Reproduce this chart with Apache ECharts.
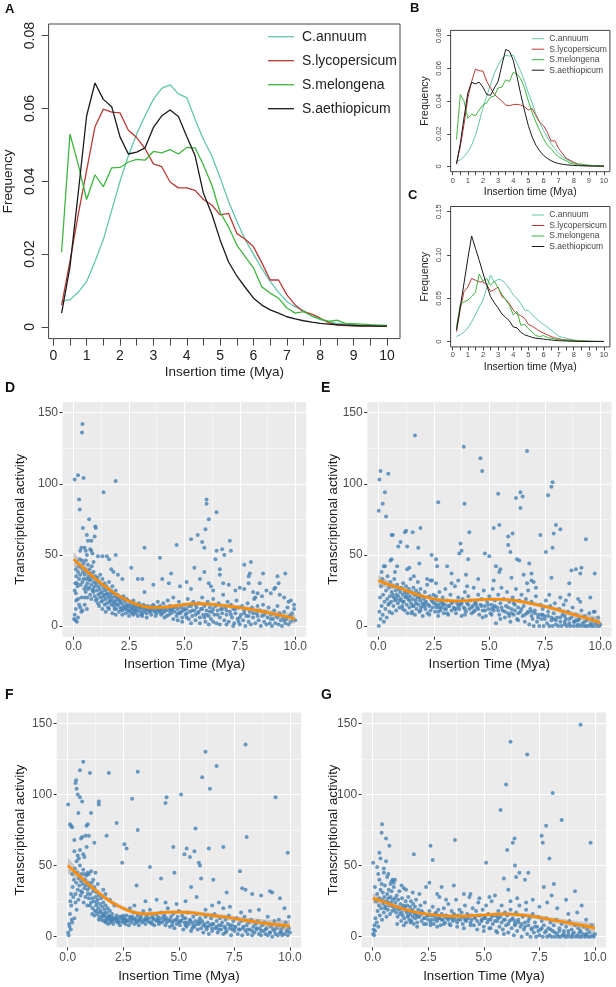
<!DOCTYPE html>
<html>
<head>
<meta charset="utf-8">
<script src="https://cdn.jsdelivr.net/npm/echarts@6/dist/echarts.min.js"></script>
<style>
html, body { margin: 0; padding: 0; background: #fff; }
#main { width: 616px; height: 987px; }
</style>
</head>
<body>
<div id="main"></div>
<script>
// insertion time bins (Mya)
var insertTime = [0.25,0.5,0.75,1,1.25,1.5,1.75,2,2.25,2.5,2.75,3,3.25,3.5,3.75,4,4.25,4.5,4.75,5,
                  5.25,5.5,5.75,6,6.25,6.5,6.75,7,7.25,7.5,7.75,8,8.25,8.5,8.75,9,9.25,9.5,9.75,10];
var speciesNames = ['C.annuum', 'S.lycopersicum', 'S.melongena', 'S.aethiopicum'];

// panel A
var aAnnuum = [0.007,0.0075,0.0095,0.0125,0.018,0.024,0.032,0.04,0.047,0.053,0.058,0.0625,0.0655,0.0665,0.064,0.063,0.057,0.0515,0.047,0.041,
               0.0345,0.029,0.024,0.02,0.016,0.0125,0.0095,0.007,0.0055,0.0045,0.003,0.002,0.0015,0.001,0.0008,0.0006,0.0005,0.0004,0.0003,0.0003];
var aLyco = [0.006,0.018,0.031,0.043,0.055,0.0598,0.059,0.0588,0.054,0.052,0.049,0.0448,0.044,0.0398,0.0382,0.0382,0.0375,0.035,0.0335,0.0308,
             0.0312,0.0257,0.0241,0.022,0.0176,0.0129,0.0129,0.0088,0.006,0.0042,0.0035,0.0024,0.0012,0.0006,0.0004,0.0003,0.0002,0.0002,0.0002,0.0002];
var aMelon = [0.0205,0.053,0.0445,0.035,0.0418,0.0385,0.0437,0.0438,0.0453,0.046,0.0458,0.0482,0.0478,0.0487,0.0475,0.0493,0.0492,0.0445,0.039,0.0315,
              0.0275,0.0225,0.0193,0.0162,0.011,0.0093,0.0079,0.0052,0.0038,0.0042,0.003,0.0022,0.0015,0.0019,0.001,0.0009,0.0008,0.0006,0.0005,0.0004];
var aAethi = [0.0038,0.0165,0.037,0.058,0.067,0.0625,0.0605,0.0522,0.0475,0.048,0.0492,0.0548,0.058,0.0596,0.0578,0.0523,0.047,0.0367,0.031,0.0239,
              0.0179,0.014,0.0109,0.0079,0.006,0.0047,0.0038,0.0028,0.0022,0.0017,0.0013,0.001,0.0008,0.0006,0.0005,0.0004,0.0003,0.0003,0.0002,0.0002];

// panel B
var bAnnuum = [0.003,0.004,0.006,0.009,0.013,0.019,0.027,0.036,0.043,0.05,0.057,0.062,0.066,0.068,0.0675,0.068,0.063,0.058,0.052,0.045,
               0.039,0.032,0.027,0.022,0.018,0.014,0.011,0.008,0.006,0.0045,0.003,0.0022,0.0015,0.001,0.0008,0.0006,0.0005,0.0004,0.0004,0.0004];
var bLyco = [0.002,0.012,0.026,0.042,0.052,0.0595,0.0585,0.0583,0.052,0.048,0.044,0.042,0.04,0.0375,0.0372,0.0378,0.038,0.0375,0.0365,0.0345,
             0.0355,0.031,0.027,0.025,0.021,0.0155,0.0158,0.011,0.008,0.005,0.0038,0.0025,0.0015,0.0008,0.0005,0.0004,0.0003,0.0003,0.0003,0.0003];
var bMelon = [0.0165,0.044,0.04,0.0295,0.032,0.031,0.0345,0.0375,0.039,0.0425,0.043,0.048,0.0485,0.053,0.052,0.0575,0.0565,0.0535,0.048,0.04,
              0.033,0.027,0.022,0.017,0.013,0.011,0.008,0.006,0.0045,0.0035,0.002,0.0015,0.0012,0.0015,0.001,0.0008,0.0006,0.0005,0.0004,0.0004];
var bAethi = [0.0015,0.014,0.03,0.045,0.0515,0.0505,0.0515,0.0485,0.044,0.0435,0.048,0.052,0.062,0.0715,0.0705,0.065,0.055,0.044,0.034,0.025,
              0.018,0.013,0.0095,0.0068,0.005,0.0035,0.0025,0.0018,0.0014,0.001,0.0008,0.0006,0.0005,0.0004,0.0004,0.0003,0.0003,0.0002,0.0002,0.0002];

// panel C
var cAnnuum = [0.006,0.008,0.011,0.016,0.023,0.031,0.04,0.048,0.062,0.077,0.069,0.072,0.071,0.067,0.061,0.054,0.05,0.044,0.0365,0.036,
               0.031,0.027,0.023,0.02,0.017,0.0135,0.01,0.0065,0.005,0.004,0.003,0.002,0.0015,0.001,0.0008,0.0006,0.0005,0.0004,0.0004,0.0003];
var cLyco = [0.0115,0.038,0.058,0.063,0.073,0.071,0.069,0.069,0.066,0.058,0.06,0.063,0.052,0.049,0.044,0.0365,0.032,0.03,0.027,0.02,
             0.018,0.015,0.012,0.01,0.008,0.006,0.0045,0.0035,0.0025,0.002,0.0018,0.0015,0.001,0.0008,0.0006,0.0005,0.0004,0.0003,0.0003,0.0003];
var cMelon = [0.017,0.043,0.046,0.048,0.052,0.057,0.078,0.07,0.073,0.065,0.07,0.062,0.055,0.048,0.042,0.031,0.035,0.019,0.02,0.015,
              0.011,0.007,0.006,0.007,0.005,0.004,0.003,0.0025,0.002,0.0015,0.0012,0.001,0.0008,0.001,0.0006,0.0005,0.0004,0.0003,0.0003,0.0003];
var cAethi = [0.0135,0.04,0.068,0.096,0.122,0.108,0.094,0.079,0.065,0.052,0.045,0.039,0.032,0.028,0.024,0.017,0.016,0.011,0.008,0.0065,
              0.005,0.004,0.0035,0.003,0.0025,0.002,0.0015,0.0012,0.001,0.0008,0.0006,0.0005,0.0004,0.0003,0.0003,0.0002,0.0002,0.0002,0.0002,0.0002];

// tick labels
var rTicks = [0,0.5,1,1.5,2,2.5,3,3.5,4,4.5,5,5.5,6,6.5,7,7.5,8,8.5,9,9.5,10];
var rLabels = [0,1,2,3,4,5,6,7,8,9,10];
var freqTicksAB = [0,0.02,0.04,0.06,0.08];
var freqTicksC = [0,0.05,0.1,0.15];
var ggXTicks = [0,2.5,5,7.5,10];
var ggXMinor = [1.25,3.75,6.25,8.75];
var ggYTicks = [0,50,100,150];
var ggYMinor = [25,75,125];

// loess fits (x, fit, lower, upper)
var fitTime = [0,0.5,1,1.5,2,2.5,3,3.5,4,4.5,5,5.5,6,6.5,7,7.5,8,8.5,9,9.5,10];
var dFit = [47,40,33,27,21.5,17.5,14.5,13,13.2,14,15,15.8,15.5,14.8,14,13,11.8,10.3,8.7,7,5];
var dLo  = [42,37,31,25.5,20,16,13,11.5,11.8,12.6,13.6,14.3,14,13.3,12.5,11.5,10.1,8.4,6.4,4.3,1.5];
var dHi  = [52,43,35,28.5,23,19,16,14.5,14.6,15.4,16.4,17.3,17,16.3,15.5,14.5,13.5,12.2,11,9.7,8.5];
var eFit = [32,29,26.5,23.5,21,19,18,17.6,18,18.5,18.8,18.8,18.2,17,15.5,13.8,11.8,9.5,7.2,5,2.5];
var eLo  = [28,26.5,24.8,22,19.6,17.7,16.8,16.4,16.8,17.3,17.6,17.5,16.9,15.6,14,12.3,10.2,7.7,5.1,2.5,-1.5];
var eHi  = [36,31.5,28.2,25,22.4,20.3,19.2,18.8,19.2,19.7,20,20.1,19.5,18.4,17,15.3,13.4,11.3,9.3,7.5,6.5];
var fFit = [50,43,36,29.5,24,20,17,16,16.5,17.2,17.3,17,16,15,14,12.8,11.5,10.3,9.2,8.3,7.5];
var fLo  = [44.5,39.5,33.5,27.5,22.3,18.5,15.6,14.6,15.1,15.8,15.9,15.5,14.5,13.4,12.3,11,9.5,8,6.5,5,3.5];
var fHi  = [55.5,46.5,38.5,31.5,25.7,21.5,18.4,17.4,17.9,18.6,18.7,18.5,17.5,16.6,15.7,14.6,13.5,12.6,11.9,11.6,11.5];
var gFit = [27,24.5,21.5,19,17,15.8,15,14.5,14.5,14.8,15.3,15.8,16,15.5,14.8,13.5,12,10.7,9.2,7.8,6];
var gLo  = [23.5,22.3,19.9,17.7,15.8,14.7,13.9,13.4,13.4,13.7,14.2,14.6,14.7,14.1,13.3,11.9,10.3,8.8,7,5.2,2.5];
var gHi  = [30.5,26.7,23.1,20.3,18.2,16.9,16.1,15.6,15.6,15.9,16.4,17,17.3,16.9,16.3,15.1,13.7,12.6,11.4,10.4,9.5];

// scatter points [insertion time, transcriptional activity]
var dPoints = [
 [0.05,103],[0.2,106],[0.25,89],[0.28,82],[0.38,136],[0.4,142],[0.45,104],[0.42,69],[0.7,75],[0.98,70],[1.0,69],[0.95,63],[0.8,60],
 [1.35,94],[1.9,102],[1.9,50],[3.2,55],[2.6,41],[3.9,48],[4.65,57],[5.3,61],[5.6,64],[5.8,59],[5.9,55],[5.95,68],[6.0,89],[6.0,86],
 [6.1,75],[6.45,80],[6.45,53],[6.4,47],[6.7,54],[6.8,50],[7.05,60],[7.1,53],[6.6,40],[7.7,43],[8.0,45],[7.9,35],[7.95,37],[8.55,37],
 [9.55,37],[9.2,35],[9.25,30],[9.1,27],[9.8,18],[9.95,15],
 [0.5,55],[0.55,53],[0.6,50],[0.65,60],[0.75,54],[0.8,53],[0.85,51],[0.6,64],[0.35,55],[0.3,53],[0.9,45],[1.1,49],[1.3,49],[1.5,49],
 [1.6,47],[1.7,40],[1.8,38],[2.0,36],[2.2,33],[2.9,33],[3.1,33],[3.2,24],[3.6,29],[4.0,33],[4.4,37],[4.3,30],[4.8,28],[5.1,31],[5.3,26],
 [5.45,41],[5.7,33],[5.9,38],[6.1,30],[6.2,28],[6.3,25],[6.6,36],[6.75,30],[7.0,29],[7.3,25],[7.5,27],[7.7,26],[7.9,30],[8.1,24],[8.3,23],
 [8.5,21],[8.4,30],[8.2,20],[8.7,25],[8.9,23],[9.05,26],[9.3,22],[9.5,20],[9.7,17],
 [0.02,5],[0.05,8],[0.08,4],[0.1,12],[0.1,23],[0.15,30],[0.12,18],[0.2,19],[0.25,15],[0.3,13],[0.35,20],[0.4,11],[0.5,20],[0.55,28],[0.45,33],
 [0.05,25],[0.08,30],[0.1,40],[0.12,35],[0.15,45],[0.18,28],[0.2,38],[0.22,42],[0.25,33],[0.28,47],[0.3,36],[0.32,29],[0.35,41],[0.38,46],
 [0.4,31],[0.42,38],[0.45,44],[0.48,26],[0.5,36],[0.52,40],[0.55,46],[0.58,33],[0.6,38],[0.62,30],[0.65,43],[0.68,35],[0.7,27],[0.72,40],
 [0.75,32],[0.78,37],[0.8,29],[0.82,42],[0.85,34],[0.88,26],[0.9,38],[0.92,31],[0.95,28],[0.98,35],[0.62,20],[0.75,22],[0.9,24],[0.5,15],
 [0.35,10],[0.2,6],[0.15,3],[0.6,12],
 [1.02,30],[1.05,25],[1.08,34],[1.1,28],[1.12,22],[1.15,31],[1.18,26],[1.2,36],[1.22,20],[1.25,29],[1.28,24],[1.3,33],[1.32,18],[1.35,27],
 [1.38,22],[1.4,30],[1.42,25],[1.45,19],[1.48,28],[1.5,16],[1.52,23],[1.55,26],[1.58,20],[1.6,31],[1.62,17],[1.65,22],[1.68,25],[1.7,15],
 [1.72,20],[1.75,28],[1.78,18],[1.8,23],[1.82,14],[1.85,21],[1.88,17],[1.9,25],[1.92,12],[1.95,19],[1.98,22],[2.0,15],[2.05,18],[2.1,13],
 [2.12,20],[2.15,16],[2.2,11],[2.22,19],[2.25,14],[2.3,17],[2.35,9],[2.4,15],[2.42,12],[2.45,18],[2.48,10],
 [2.52,14],[2.55,11],[2.6,16],[2.62,9],[2.65,13],[2.7,18],[2.72,10],[2.75,12],[2.8,15],[2.82,9],[2.85,13],[2.9,11],[2.95,16],[3.0,10],
 [3.02,13],[3.05,8],[3.1,12],[3.15,15],[3.2,10],[3.25,12],[3.3,9],[3.35,14],[3.4,11],[3.45,13],[3.5,8],[3.55,12],[3.6,15],[3.65,10],
 [3.7,13],[3.75,9],[3.8,17],[3.85,11],[3.9,14],[3.95,8],[4.0,12],[4.05,16],[4.1,10],[4.15,13],[4.2,7],[4.25,18],[4.3,11],[4.35,14],
 [4.4,9],[4.45,12],[4.5,20],
 [4.55,10],[4.6,14],[4.65,7],[4.7,12],[4.75,17],[4.8,9],[4.85,13],[4.9,6],[4.95,11],[5.0,15],[5.05,8],[5.1,12],[5.15,19],[5.2,5],
 [5.25,10],[5.3,14],[5.35,7],[5.4,17],[5.45,11],[5.5,4],[5.55,13],[5.6,9],[5.65,16],[5.7,6],[5.75,12],[5.8,20],[5.85,8],[5.9,14],
 [5.95,3],[6.0,11],[6.05,17],[6.1,7],[6.15,13],[6.2,5],[6.25,10],[6.3,19],[6.35,8],[6.4,14],[6.45,2],[6.5,11],[6.55,16],[6.6,6],
 [6.65,12],[6.7,9],[6.75,22],[6.8,4],[6.85,13],[6.9,8],[6.95,17],[7.0,3],
 [7.05,10],[7.1,15],[7.15,6],[7.2,12],[7.25,2],[7.3,9],[7.35,18],[7.4,5],[7.45,13],[7.5,1],[7.55,8],[7.6,14],[7.65,4],[7.7,11],
 [7.75,0],[7.8,7],[7.85,16],[7.9,3],[7.95,10],[8.0,1],[8.05,13],[8.1,6],[8.15,19],[8.2,2],[8.25,9],[8.3,14],[8.35,4],[8.4,11],
 [8.45,0],[8.5,7],[8.55,15],[8.6,3],[8.65,10],[8.7,1],[8.75,6],[8.8,13],[8.85,2],[8.9,8],[8.95,0],[9.0,5],[9.05,11],[9.1,2],
 [9.15,7],[9.2,14],[9.25,1],[9.3,9],[9.35,4],[9.4,0],[9.45,6],[9.5,10],[9.55,2],[9.6,5],[9.65,13],[9.7,1],[9.75,7],[9.8,3],
 [9.85,9],[9.9,5],[9.95,12],[10.0,4],
 [1.0,18],[1.15,14],[1.3,12],[1.45,10],[1.6,12],[1.75,9],[1.9,8],[2.05,10],[2.2,8],[2.35,12],[2.5,7],[2.7,8],[2.9,7],[3.1,7],
 [3.3,6],[3.5,11],[3.7,7],[3.9,10],[4.1,6],[4.3,8],[4.5,5],[4.7,4],[4.9,3],[5.1,6],[5.3,2],[5.5,8],[5.7,2],[5.9,6],[6.1,1],[6.3,3],
 [6.6,1],[6.9,1],[7.2,0],[7.45,3]
];
var dDense = [
 [0.55,24],[0.65,26],[0.7,33],[0.8,19],[0.85,25],[0.95,21],[1.05,19],[1.1,16],[1.2,23],[1.25,17],[1.35,21],[1.4,15],[1.5,22],[1.55,13],
 [1.65,18],[1.7,24],[1.8,16],[1.85,12],[1.95,15],[2.0,20],[2.1,17],[2.15,12],[2.25,21],[2.3,13],[2.4,19],[2.45,14],[2.55,17],[2.6,12],
 [2.7,14],[2.8,11],[2.9,14],[3.0,13],[3.1,9],[3.2,14],[3.3,12],[3.45,10],[3.55,14],[3.7,11],[3.8,13],[3.9,11],[4.0,9],[4.15,11],
 [4.3,13],[4.4,11],[4.55,13],[4.7,9],[4.85,10],[5.0,12],[5.1,9],[5.2,14],[5.35,11],[5.5,15],[5.65,10],[5.8,12],[6.0,8],[6.15,10],
 [6.3,12],[6.5,8],[6.7,12],[6.9,11],[7.1,8],[7.3,12],[7.5,6],[7.7,9],[7.9,7],[8.1,9],[8.3,7],[8.6,8],[8.9,5],[9.2,6],[9.5,4],[9.8,7]
];

var ePoints = [
 [0.02,81],[0.05,103],[0.1,109],[0.2,86],[0.3,94],[0.35,77],[0.45,107],[0.6,64],[0.65,64],[0.9,56],[1.0,59],[1.2,66],[1.25,67],[1.3,56],
 [1.55,66],[1.65,134],[1.8,55],[1.9,69],[1.85,44],[2.4,50],[2.6,47],[2.65,42],[2.7,87],[3.1,42],[3.3,37],[3.65,51],[3.7,58],[3.75,53],
 [3.85,126],[3.88,86],[3.95,36],[4.1,66],[4.05,47],[4.6,118],[4.68,109],[4.8,51],[5.0,49],[5.2,69],[5.4,93],[5.45,71],[5.5,40],[5.3,42],
 [5.85,63],[5.85,57],[5.95,52],[6.05,65],[6.2,90],[6.25,47],[6.35,46],[6.4,94],[6.4,83],[6.5,91],[6.7,123],[6.8,44],[6.55,36],[6.9,37],
 [7.3,64],[7.55,52],[7.65,92],[7.8,98],[7.85,101],[7.85,55],[7.9,65],[8.0,71],[8.2,68],[7.8,34],[8.6,30],[8.7,39],[8.9,40],[9.1,37],
 [9.15,41],[9.35,61],[9.55,20],[9.75,37],[8.45,18],[9.0,19],[7.7,22],
 [0.02,0],[0.05,10],[0.08,20],[0.1,5],[0.12,28],[0.15,14],[0.18,33],[0.2,8],[0.22,22],[0.25,3],[0.28,17],[0.3,30],[0.32,12],[0.35,25],
 [0.38,6],[0.4,19],[0.42,35],[0.45,15],[0.48,27],[0.5,10],[0.52,21],[0.55,31],[0.58,17],[0.6,24],[0.62,9],[0.65,28],[0.68,14],[0.7,20],
 [0.72,33],[0.75,18],[0.78,25],[0.8,11],[0.82,22],[0.85,29],[0.88,16],[0.9,21],[0.92,26],[0.95,13],[0.98,24],[0.3,42],[0.55,46],
 [0.6,47],[0.75,38],[0.85,42],[0.15,38],[0.25,42],
 [1.02,19],[1.05,27],[1.08,14],[1.1,22],[1.12,30],[1.15,17],[1.18,24],[1.2,11],[1.22,20],[1.25,28],[1.28,15],[1.3,23],[1.32,9],[1.35,19],
 [1.38,26],[1.4,13],[1.42,21],[1.45,33],[1.48,16],[1.5,24],[1.52,10],[1.55,19],[1.58,27],[1.6,14],[1.62,22],[1.65,8],[1.68,18],[1.7,25],
 [1.72,12],[1.75,20],[1.78,31],[1.8,15],[1.82,23],[1.85,10],[1.88,18],[1.9,26],[1.92,13],[1.95,21],[1.98,16],[2.0,7],[2.05,19],[2.1,24],
 [2.12,12],[2.15,17],[2.2,29],[2.22,9],[2.25,15],[2.3,21],[2.35,11],[2.4,18],[2.42,32],[2.45,13],[2.48,22],[1.3,40],[1.4,41],[2.2,33],
 [1.6,35],[2.35,32],
 [2.52,16],[2.55,10],[2.6,21],[2.62,13],[2.65,18],[2.7,7],[2.72,15],[2.75,24],[2.8,11],[2.82,17],[2.85,13],[2.9,20],[2.95,9],[3.0,15],
 [3.02,26],[3.05,12],[3.1,18],[3.15,8],[3.2,14],[3.25,22],[3.3,11],[3.35,17],[3.4,13],[3.45,28],[3.5,9],[3.55,16],[3.6,20],[3.65,12],
 [3.7,15],[3.75,7],[3.8,19],[3.85,13],[3.9,24],[3.95,10],[4.0,16],[4.05,21],[4.1,12],[4.15,18],[4.2,9],[4.25,14],[4.3,27],[4.35,11],
 [4.4,17],[4.45,13],[4.5,22],[4.55,8],[4.6,15],[4.65,19],[4.7,11],[4.75,25],[4.8,14],[4.85,7],[4.9,17],[4.95,12],[5.0,21],[5.05,9],
 [5.1,15],[5.15,26],[5.2,11],[5.25,18],[5.3,2],[5.35,13],[5.4,22],[5.45,8],[5.5,16],[5.55,27],[5.6,11],[5.65,19],[5.7,6],[5.75,14],
 [5.8,24],[5.85,9],[5.9,17],[5.95,3],[6.0,12],[6.05,20],[6.1,8],[6.15,15],[6.2,26],[6.25,5],[6.3,13],[6.35,18],[6.4,10],[6.45,22],
 [3.6,32],[4.0,28],[2.6,30],[5.2,32],[5.45,38],[6.0,34],[4.5,33],[3.3,30],
 [6.5,7],[6.55,14],[6.6,3],[6.65,19],[6.7,9],[6.75,25],[6.8,1],[6.85,12],[6.9,17],[6.95,5],[7.0,0],[7.05,11],[7.1,21],[7.15,3],
 [7.2,8],[7.25,0],[7.3,15],[7.35,5],[7.4,12],[7.45,0],[7.5,7],[7.55,18],[7.6,2],[7.65,10],[7.7,0],[7.75,14],[7.8,4],[7.85,0],
 [7.9,9],[7.95,16],[8.0,1],[8.05,6],[8.1,0],[8.15,12],[8.2,3],[8.25,0],[8.3,8],[8.35,15],[8.4,1],[8.45,5],[8.5,0],[8.55,10],
 [8.6,2],[8.65,0],[8.7,6],[8.75,13],[8.8,0],[8.85,3],[8.9,8],[8.95,0],[9.0,1],[9.05,5],[9.1,0],[9.15,11],[9.2,2],[9.25,0],
 [9.3,7],[9.35,0],[9.4,4],[9.45,0],[9.5,9],[9.55,1],[9.6,0],[9.65,5],[9.7,0],[9.75,10],[9.8,2],[9.85,0],[9.9,6],[9.95,0],[10.0,1],
 [6.7,30],[6.9,32],[7.1,27],[7.0,31],[8.6,22],[8.2,20],[9.1,17],[9.7,10],
 [1.1,12],[1.5,9],[1.9,11],[2.3,8],[2.7,10],[3.1,9],[3.5,12],[3.9,8],[4.3,10],[4.7,6],[5.1,8],[5.5,5],[5.9,7],[6.3,4],[2.1,14],
 [2.9,16],[3.7,17],[4.4,15],[5.2,13],[6.1,16],[6.9,10],[7.4,8],[7.9,5],[8.4,7],[8.9,4]
];
var eDense = [
 [0.5,16],[0.65,22],[0.8,19],[0.95,18],[1.1,17],[1.25,21],[1.4,18],[1.55,14],[1.7,16],[1.85,20],[2.0,14],[2.1,16],[2.3,14],[2.45,17],
 [2.6,15],[2.75,13],[2.9,15],[3.0,12],[3.15,14],[3.3,16],[3.45,12],[3.6,14],[3.75,16],[3.9,12],[4.05,15],[4.2,13],[4.35,16],[4.5,12],
 [4.65,14],[4.8,11],[4.95,15],[5.1,12],[5.25,14],[5.4,11],[5.55,13],[5.7,10],[5.85,13],[6.0,9],[6.15,11],[6.3,9],[6.45,12],[6.6,8],
 [6.75,10],[6.9,7],[7.05,9],[7.2,6],[7.35,8],[7.5,5],[7.65,7],[7.8,6],[8.0,4],[8.2,6],[8.4,3],[8.6,5],[8.8,3],[9.0,4],[9.3,3],[9.6,2]
];

var fPoints = [
 [0.02,93],[0.1,79],[0.15,78],[0.2,77],[0.3,68],[0.35,108],[0.38,110],[0.4,104],[0.45,100],[0.48,87],[0.55,117],[0.55,98],[0.65,95],
 [0.7,123],[0.85,78],[0.9,79],[1.0,115],[1.05,87],[0.95,71],[1.2,66],[1.4,95],[1.4,93],[1.75,71],[1.85,115],[2.2,80],[2.45,52],[2.55,65],
 [2.65,62],[2.9,97],[3.15,116],[3.15,75],[3.1,36],[3.7,49],[4.2,41],[4.4,94],[4.45,98],[4.75,63],[4.8,45],[5.1,100],[5.25,58],[5.35,62],
 [5.5,56],[5.55,35],[5.75,76],[5.7,60],[5.9,52],[5.95,50],[6.0,41],[6.05,112],[6.2,130],[6.4,104],[6.35,62],[6.7,120],[6.55,40],
 [7.0,63],[7.15,31],[7.75,46],[7.85,34],[8.0,135],[8.05,70],[8.0,33],[8.3,30],[8.7,29],[9.1,32],[9.2,31],[9.35,98],[9.55,27],[9.9,59],
 [9.75,20],[9.95,14],
 [0.02,3],[0.04,1],[0.06,9],[0.08,7],[0.1,16],[0.12,25],[0.14,5],[0.16,22],[0.18,12],[0.2,44],[0.22,35],[0.25,28],[0.28,40],[0.3,13],
 [0.32,48],[0.35,30],[0.38,38],[0.4,19],[0.42,45],[0.45,33],[0.48,26],[0.5,41],[0.52,36],[0.55,50],[0.58,29],[0.6,39],[0.62,44],[0.65,31],
 [0.68,37],[0.7,47],[0.72,24],[0.75,34],[0.78,40],[0.8,28],[0.82,36],[0.85,43],[0.88,22],[0.9,33],[0.92,38],[0.95,27],[0.98,35],
 [0.4,53],[0.5,55],[0.55,61],[0.6,69],[0.65,70],[0.7,58],[0.75,56],[0.8,71],[0.85,63],[0.9,45],[0.95,44],[0.3,60],[0.45,57],[0.2,10],
 [0.35,24],[0.15,30],
 [1.02,30],[1.05,24],[1.08,38],[1.1,27],[1.12,20],[1.15,32],[1.18,25],[1.2,35],[1.22,18],[1.25,28],[1.28,22],[1.3,31],[1.32,16],[1.35,26],
 [1.38,20],[1.4,29],[1.42,14],[1.45,23],[1.48,18],[1.5,27],[1.52,12],[1.55,21],[1.58,16],[1.6,24],[1.62,11],[1.65,19],[1.68,14],[1.7,22],
 [1.72,10],[1.75,17],[1.78,13],[1.8,20],[1.82,9],[1.85,15],[1.88,12],[1.9,18],[1.92,10],[1.95,14],[1.98,11],[2.0,16],[2.05,9],[2.1,13],
 [2.15,11],[2.2,15],[2.25,10],[2.3,12],[2.35,8],[2.4,14],[2.45,11],[1.15,40],[1.25,45],[1.6,33],[1.7,30],[1.9,26],[2.1,22],[1.05,46],[1.35,37],
 [2.5,10],[2.55,13],[2.6,9],[2.65,15],[2.7,11],[2.75,8],[2.8,14],[2.85,10],[2.9,12],[2.95,17],[3.0,9],[3.05,13],[3.1,11],[3.15,15],
 [3.2,8],[3.25,12],[3.3,14],[3.35,10],[3.4,18],[3.45,12],[3.5,9],[3.55,15],[3.6,11],[3.65,13],[3.7,19],[3.75,10],[3.8,14],[3.85,12],
 [3.9,8],[3.95,16],[4.0,11],[4.05,14],[4.1,9],[4.15,13],[4.2,17],[4.25,10],[4.3,12],[4.35,15],[4.4,8],[4.45,13],[4.5,20],[4.55,11],
 [4.6,7],[4.65,14],[4.7,10],[4.75,16],[4.8,6],[4.85,12],[4.9,9],[4.95,14],[5.0,18],[5.05,8],[5.1,11],[5.15,15],[5.2,5],[5.25,10],
 [5.3,13],[5.35,7],[5.4,17],[5.45,9],[5.5,12],[5.55,4],[5.6,10],[5.65,14],[5.7,7],[5.75,11],[5.8,16],[5.85,5],[5.9,9],[5.95,13],
 [3.0,22],[3.5,25],[4.0,26],[4.4,24],[2.8,20],[4.9,23],[5.3,25],[5.8,28],
 [6.0,6],[6.05,11],[6.1,3],[6.15,9],[6.2,14],[6.25,5],[6.3,10],[6.35,2],[6.4,8],[6.45,13],[6.5,4],[6.55,9],[6.6,16],[6.65,6],
 [6.7,11],[6.75,3],[6.8,8],[6.85,13],[6.9,5],[6.95,10],[7.0,2],[7.05,7],[7.1,12],[7.15,4],[7.2,9],[7.25,15],[7.3,6],[7.35,1],
 [7.4,8],[7.45,11],[7.5,4],[7.55,7],[7.6,13],[7.65,2],[7.7,9],[7.75,5],[7.8,11],[7.85,1],[7.9,7],[7.95,14],[8.0,4],[8.05,8],
 [8.1,2],[8.15,10],[8.2,5],[8.25,12],[8.3,1],[8.35,7],[8.4,3],[8.45,9],[8.5,5],[8.55,11],[8.6,2],[8.65,6],[8.7,1],[8.75,8],
 [8.8,4],[8.85,10],[8.9,2],[8.95,6],[9.0,1],[9.05,9],[9.1,3],[9.15,7],[9.2,0],[9.25,5],[9.3,11],[9.35,2],[9.4,6],[9.45,1],
 [9.5,8],[9.55,3],[9.6,5],[9.65,1],[9.7,7],[9.75,2],[9.8,10],[9.85,4],[9.9,1],[9.95,6],[10.0,3],
 [6.5,22],[6.8,24],[7.3,21],[7.8,17],[8.2,18],[8.6,19],[9.0,14],[9.5,12],[6.2,19],[7.0,20],
 [1.1,16],[1.4,12],[1.7,11],[2.0,12],[2.3,10],[2.6,12],[2.9,14],[3.2,11],[3.5,13],[3.8,9],[4.1,11],[4.4,12],[4.7,8],[5.0,10],
 [5.3,8],[5.6,6],[5.9,11],[6.2,7],[6.5,6],[6.8,5],[7.1,3],[7.4,5],[1.0,22],[1.3,18],[1.6,15],[1.9,13],[2.2,13],[2.5,15]
];
var fDense = [
 [1.2,15],[1.3,24],[1.45,17],[1.55,14],[1.65,16],[1.75,12],[1.85,14],[1.95,12],[2.05,13],[2.2,12],[2.35,14],[2.45,13],[2.6,11],[2.75,12],
 [2.85,13],[3.0,12],[3.1,10],[3.25,13],[3.4,11],[3.55,12],[3.7,10],[3.85,13],[4.0,12],[4.15,10],[4.3,14],[4.45,10],[4.6,12],[4.75,11],
 [4.9,12],[5.05,11],[5.2,13],[5.35,10],[5.5,11],[5.65,8],[5.8,9],[5.95,10],[6.1,8],[6.3,7],[6.5,9],[6.7,7],[6.9,8],[7.1,6],[7.3,8],
 [7.5,6],[7.7,5],[7.9,6],[8.1,5],[8.3,4],[8.5,6],[8.7,4],[8.9,5],[9.1,3],[9.3,4],[9.6,3],[9.9,4],[0.6,32],[0.75,44],[0.9,30],[1.0,36]
];

var gPoints = [
 [0.02,52],[0.1,35],[0.2,49],[0.3,59],[0.35,55],[0.4,73],[0.42,79],[0.5,48],[0.6,69],[0.6,53],[0.7,44],[0.75,64],[0.8,37],[0.9,40],
 [1.85,58],[2.6,64],[2.7,54],[2.55,38],[3.1,35],[3.7,68],[3.65,36],[5.1,52],[5.75,89],[5.9,41],[6.0,107],[6.05,61],[6.2,137],[6.1,33],
 [6.3,66],[6.38,69],[6.4,50],[6.45,42],[6.6,45],[6.85,40],[6.95,128],[7.0,45],[7.6,71],[7.65,66],[7.7,35],[7.8,78],[7.95,55],[8.1,101],
 [8.15,37],[8.5,82],[8.7,26],[9.1,32],[9.35,149],[9.4,22],[9.8,66],[8.05,29],
 [0.02,2],[0.04,5],[0.06,1],[0.08,8],[0.1,4],[0.12,13],[0.15,25],[0.18,10],[0.2,30],[0.22,18],[0.25,7],[0.28,22],[0.3,27],[0.32,15],
 [0.35,33],[0.38,20],[0.4,26],[0.42,12],[0.45,31],[0.48,23],[0.5,17],[0.52,28],[0.55,36],[0.58,21],[0.6,25],[0.62,14],[0.65,30],[0.68,19],
 [0.7,27],[0.72,33],[0.75,22],[0.78,16],[0.8,28],[0.82,24],[0.85,32],[0.88,18],[0.9,26],[0.92,21],[0.95,35],[0.98,19],[0.3,40],[0.5,45],
 [0.65,42],[0.85,39],[0.95,38],[0.25,44],[0.4,37],
 [1.02,24],[1.05,17],[1.08,29],[1.1,21],[1.12,14],[1.15,26],[1.18,19],[1.2,32],[1.22,16],[1.25,23],[1.28,11],[1.3,20],[1.32,27],[1.35,15],
 [1.38,22],[1.4,34],[1.42,13],[1.45,19],[1.48,25],[1.5,10],[1.52,17],[1.55,22],[1.58,14],[1.6,28],[1.62,18],[1.65,12],[1.68,21],[1.7,16],
 [1.72,25],[1.75,11],[1.78,19],[1.8,14],[1.82,23],[1.85,9],[1.88,17],[1.9,21],[1.92,13],[1.95,26],[1.98,15],[2.0,10],[2.05,19],[2.1,14],
 [2.15,22],[2.2,11],[2.25,17],[2.3,13],[2.35,24],[2.4,9],[2.45,15],[1.3,36],[1.5,33],[1.8,31],[2.1,30],[2.4,35],[1.0,40],
 [2.5,12],[2.55,18],[2.6,10],[2.65,15],[2.7,21],[2.75,9],[2.8,14],[2.85,17],[2.9,11],[2.95,19],[3.0,13],[3.05,8],[3.1,16],[3.15,12],
 [3.2,20],[3.25,10],[3.3,15],[3.35,13],[3.4,23],[3.45,9],[3.5,14],[3.55,18],[3.6,11],[3.65,16],[3.7,12],[3.75,26],[3.8,10],[3.85,15],
 [3.9,19],[3.95,12],[4.0,17],[4.05,9],[4.1,14],[4.15,22],[4.2,11],[4.25,16],[4.3,13],[4.35,28],[4.4,10],[4.45,15],[4.5,20],[4.55,8],
 [4.6,14],[4.65,18],[4.7,11],[4.75,24],[4.8,9],[4.85,15],[4.9,12],[4.95,19],[5.0,7],[5.05,13],[5.1,22],[5.15,10],[5.2,16],[5.25,6],
 [5.3,12],[5.35,25],[5.4,9],[5.45,15],[5.5,29],[5.55,4],[5.6,11],[5.65,18],[5.7,7],[5.75,14],[5.8,22],[5.85,5],[5.9,12],[5.95,17],
 [2.9,30],[3.3,26],[4.1,30],[4.4,30],[4.8,27],[5.25,28],[3.0,28],
 [6.0,8],[6.05,15],[6.1,3],[6.15,11],[6.2,19],[6.25,6],[6.3,13],[6.35,1],[6.4,9],[6.45,17],[6.5,4],[6.55,12],[6.6,22],[6.65,7],
 [6.7,0],[6.75,14],[6.8,5],[6.85,10],[6.9,19],[6.95,2],[7.0,8],[7.05,13],[7.1,0],[7.15,6],[7.2,16],[7.25,3],[7.3,10],[7.35,0],
 [7.4,7],[7.45,14],[7.5,1],[7.55,5],[7.6,11],[7.65,0],[7.7,8],[7.75,3],[7.8,13],[7.85,0],[7.9,6],[7.95,1],[8.0,10],[8.05,0],
 [8.1,4],[8.15,8],[8.2,0],[8.25,12],[8.3,2],[8.35,0],[8.4,6],[8.45,0],[8.5,9],[8.55,1],[8.6,4],[8.65,0],[8.7,7],[8.75,0],
 [8.8,2],[8.85,11],[8.9,0],[8.95,5],[9.0,0],[9.05,3],[9.1,8],[9.15,0],[9.2,1],[9.25,6],[9.3,0],[9.35,4],[9.4,0],[9.45,2],
 [9.5,7],[9.55,0],[9.6,1],[9.65,5],[9.7,0],[9.75,3],[9.8,0],[9.85,8],[9.9,1],[9.95,0],[10.0,2],
 [6.2,25],[6.5,27],[6.9,24],[7.2,26],[7.5,21],[7.85,24],[8.3,20],[8.8,16],[9.2,17],[9.6,12],
 [1.1,9],[1.4,8],[1.7,10],[2.0,7],[2.3,9],[2.6,8],[2.9,7],[3.2,9],[3.5,8],[3.8,7],[4.1,6],[4.4,8],[4.7,5],[5.0,4],[5.3,6],[5.6,3],
 [5.9,2],[2.2,18],[2.8,12],[3.6,14],[4.2,12],[5.0,13],[5.6,14],[6.4,11]
];
var gDense = [
 [1.15,20],[1.3,17],[1.45,21],[1.6,15],[1.75,18],[1.9,16],[2.05,14],[2.2,16],[2.35,13],[2.5,15],[2.65,12],[2.8,16],[2.95,13],[3.1,12],
 [3.25,14],[3.4,12],[3.55,13],[3.7,15],[3.85,12],[4.0,14],[4.15,12],[4.3,15],[4.45,12],[4.6,13],[4.75,15],[4.9,11],[5.05,14],[5.2,12],
 [5.35,14],[5.5,11],[5.65,13],[5.8,10],[5.95,12],[6.1,9],[6.25,12],[6.4,8],[6.55,10],[6.7,9],[6.85,7],[7.0,11],[7.15,5],[7.3,7],
 [7.45,4],[7.6,6],[7.8,4],[8.0,5],[8.2,3],[8.4,4],[8.6,2],[8.8,4],[9.0,2],[9.3,3],[9.6,2],[0.55,20],[0.7,24],[0.85,22],[1.0,27]
];

var FONT = 'Liberation Sans, Arial, sans-serif';
var lineColors = ['#62c6ad', '#b83a34', '#3fb63f', '#1a1a1a'];

function zip(xs, ys) {
	return xs.map(function (x, i) { return [x, ys[i]]; });
}

var option = {
	backgroundColor: '#fff',
	animation: false,
	title: [],
	grid: [],
	xAxis: [],
	yAxis: [],
	legend: [],
	series: []
};

// panel letters
[['A', 5, 3, 13], ['B', 410, 2, 13], ['C', 408, 188.5, 13],
 ['D', 5, 381.5, 14], ['E', 321, 381.5, 14], ['F', 5, 688.5, 14], ['G', 321, 688.5, 14]].forEach(function (p) {
	option.title.push({
		text: p[0], left: p[1], top: p[2], padding: 0,
		textStyle: { fontFamily: FONT, fontSize: p[3], fontWeight: 'bold', color: '#111' }
	});
});

function freqLabel(v) {
	return v === 0 ? '0' : v.toFixed(2);
}

// base R style panel (A, B, C)
function addRPanel(p) {
	var xi = option.xAxis.length, yi = option.yAxis.length;
	option.grid.push({
		left: p.box[0], top: p.box[1], width: p.box[2], height: p.box[3],
		show: true, backgroundColor: '#fff', borderColor: '#444', borderWidth: 1,
		containLabel: false, outerBoundsMode: 'none'
	});
	var g = option.grid.length - 1;
	option.xAxis.push({
		gridIndex: g, type: 'value', min: -0.14, max: 10.39,
		axisLine: { show: false, onZero: false },
		axisTick: { show: true, inside: false, length: p.tick, customValues: rTicks, lineStyle: { color: '#444', width: 1 } },
		axisLabel: { customValues: rLabels, fontFamily: FONT, fontSize: p.fs, color: p.labelColor, margin: p.xMargin },
		splitLine: { show: false },
		name: 'Insertion time (Mya)', nameLocation: 'middle', nameGap: p.xGap, nameMoveOverlap: false,
		nameTextStyle: { fontFamily: FONT, fontSize: p.nameFs, color: '#222' }
	});
	option.yAxis.push({
		gridIndex: g, type: 'value', min: p.ymin, max: p.ymax,
		axisLine: { show: false, onZero: false },
		axisTick: { show: true, inside: false, length: p.tick, customValues: p.yTicks, lineStyle: { color: '#444', width: 1 } },
		axisLabel: {
			customValues: p.yTicks, formatter: freqLabel, rotate: 90, align: 'center', verticalAlign: 'bottom',
			fontFamily: FONT, fontSize: p.fs, color: p.labelColor, margin: p.yMargin
		},
		splitLine: { show: false },
		name: 'Frequency', nameLocation: 'middle', nameGap: p.yGap, nameMoveOverlap: false,
		nameTextStyle: { fontFamily: FONT, fontSize: p.nameFs, color: '#222' }
	});
	p.lines.forEach(function (ys, k) {
		option.series.push({
			type: 'line', name: speciesNames[k], xAxisIndex: xi, yAxisIndex: yi,
			data: zip(insertTime, ys), symbol: 'none', silent: true,
			itemStyle: { color: lineColors[k] },
			lineStyle: { color: lineColors[k], width: p.lw }
		});
	});
	option.legend.push({
		data: speciesNames, orient: 'vertical', left: p.legend[0], top: p.legend[1], padding: 0,
		icon: 'rect', itemWidth: p.legend[2], itemHeight: p.lw, itemGap: p.legend[3], selectedMode: false,
		textStyle: { fontFamily: FONT, fontSize: p.legend[4], lineHeight: p.legend[5], color: p.legend[6], padding: [0, 0, 0, p.legend[7]] }
	});
}

// ggplot style panel (D, E, F, G)
function addGGPanel(p) {
	var xi = option.xAxis.length, yi = option.yAxis.length;
	option.grid.push({
		left: p.box[0], top: p.box[1], width: p.box[2], height: p.box[3],
		show: true, backgroundColor: '#ebebeb', borderWidth: 0,
		containLabel: false, outerBoundsMode: 'none'
	});
	var g = option.grid.length - 1;
	option.xAxis.push({
		gridIndex: g, type: 'value', min: -0.5, max: 10.5,
		axisLine: { show: false, onZero: false },
		axisTick: { show: true, length: 3, customValues: ggXTicks, lineStyle: { color: '#333', width: 1 } },
		axisLabel: {
			customValues: ggXTicks, formatter: function (v) { return v.toFixed(1); },
			fontFamily: FONT, fontSize: 12, color: '#4d4d4d', margin: 4
		},
		splitLine: { show: true, lineStyle: { color: '#fff', width: 1.1 } },
		name: 'Insertion Time (Mya)', nameLocation: 'middle', nameGap: p.xGap, nameMoveOverlap: false,
		nameTextStyle: { fontFamily: FONT, fontSize: 13.3, color: '#1a1a1a' }
	});
	option.xAxis.push({
		gridIndex: g, type: 'value', min: -0.5, max: 10.5, position: 'top',
		axisLine: { show: false, onZero: false }, axisLabel: { show: false },
		axisTick: { show: false, customValues: ggXMinor },
		splitLine: { show: true, lineStyle: { color: '#fff', width: 0.5 } }
	});
	option.yAxis.push({
		gridIndex: g, type: 'value', min: -7.5, max: 157.5,
		axisLine: { show: false, onZero: false },
		axisTick: { show: true, length: 3, customValues: ggYTicks, lineStyle: { color: '#333', width: 1 } },
		axisLabel: { customValues: ggYTicks, fontFamily: FONT, fontSize: 12, color: '#4d4d4d', margin: 4.5 },
		splitLine: { show: true, lineStyle: { color: '#fff', width: 1.1 } },
		name: 'Transcriptional activity', nameLocation: 'middle', nameGap: p.yGap, nameMoveOverlap: false,
		nameTextStyle: { fontFamily: FONT, fontSize: 13.3, color: '#1a1a1a' }
	});
	option.yAxis.push({
		gridIndex: g, type: 'value', min: -7.5, max: 157.5, position: 'right',
		axisLine: { show: false, onZero: false }, axisLabel: { show: false },
		axisTick: { show: false, customValues: ggYMinor },
		splitLine: { show: true, lineStyle: { color: '#fff', width: 0.5 } }
	});
	option.series.push({
		type: 'scatter', xAxisIndex: xi, yAxisIndex: yi, data: p.points,
		symbolSize: 4, itemStyle: { color: '#4682b4' }, silent: true, z: 2
	});
	// confidence band drawn as a polygon through the axis scales
	option.series.push({
		type: 'custom', xAxisIndex: xi, yAxisIndex: yi, data: [[0, 0]], silent: true, z: 3, clip: true,
		renderItem: function (params, api) {
			var upper = p.hi.map(function (h, i) { return api.coord([fitTime[i], h]); });
			var lower = p.lo.map(function (l, i) { return api.coord([fitTime[i], l]); }).reverse();
			return {
				type: 'polygon',
				shape: { points: upper.concat(lower) },
				style: { fill: 'rgba(150,150,150,0.45)' }
			};
		}
	});
	option.series.push({
		type: 'line', xAxisIndex: xi, yAxisIndex: yi, data: zip(fitTime, p.fit),
		smooth: true, symbol: 'none', lineStyle: { color: '#ff8c00', width: 2.6 }, silent: true, z: 4
	});
}

addRPanel({
	box: [48.6, 24, 351.4, 314.6], ymin: -0.0032, ymax: 0.0832, yTicks: freqTicksAB,
	fs: 14, nameFs: 13.5, tick: 7, xMargin: 11, yMargin: 11.6, xGap: 26.7, yGap: 33.3, lw: 1.3, labelColor: '#222',
	lines: [aAnnuum, aLyco, aMelon, aAethi],
	legend: [268, 28.7, 26, 8, 14, 16, '#222', 3]
});
addRPanel({
	box: [450.6, 30.4, 159.3, 141.3], ymin: -0.0032, ymax: 0.0832, yTicks: freqTicksAB,
	fs: 7.5, nameFs: 10.5, tick: 3.5, xMargin: 5, yMargin: 7.8, xGap: 15, yGap: 19.6, lw: 1, labelColor: '#444',
	lines: [bAnnuum, bLyco, bMelon, bAethi],
	legend: [531.7, 34.2, 12.6, 1.5, 8.5, 8.5, '#444', 0]
});
addRPanel({
	box: [450.6, 206.5, 159.3, 140.4], ymin: -0.006, ymax: 0.156, yTicks: freqTicksC,
	fs: 7.5, nameFs: 10.5, tick: 3.5, xMargin: 4.5, yMargin: 7.8, xGap: 14.5, yGap: 19.6, lw: 1, labelColor: '#444',
	lines: [cAnnuum, cLyco, cMelon, cAethi],
	legend: [531.7, 210.5, 12.6, 1.5, 8.5, 8.5, '#444', 0]
});

addGGPanel({ box: [62.5, 402, 243.8, 234.7], xGap: 21.6, yGap: 35.2, points: dPoints.concat(dDense), fit: dFit, lo: dLo, hi: dHi });
addGGPanel({ box: [367.2, 402, 244.2, 234.7], xGap: 21.6, yGap: 27.2, points: ePoints.concat(eDense), fit: eFit, lo: eLo, hi: eHi });
addGGPanel({ box: [56.6, 712.6, 244.5, 234.8], xGap: 22.6, yGap: 29.3, points: fPoints.concat(fDense), fit: fFit, lo: fLo, hi: fHi });
addGGPanel({ box: [361.6, 712.6, 244.5, 234.8], xGap: 22.6, yGap: 21.6, points: gPoints.concat(gDense), fit: gFit, lo: gLo, hi: gHi });

var myChart = echarts.init(document.getElementById('main'), null, { renderer: 'canvas' });
myChart.setOption(option);
</script>
</body>
</html>
